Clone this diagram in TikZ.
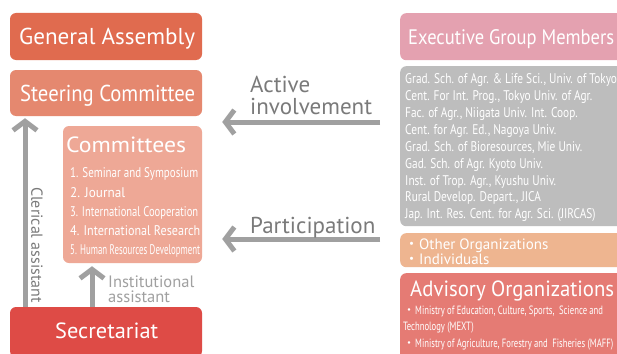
\documentclass[tikz,border=0pt]{standalone}
\usepackage{graphicx}
\usepackage{fontspec}
\setmainfont{PT Sans}
\newfontfamily\listfont[FakeStretch=0.81]{PT Sans}
\newfontfamily\narrowfont[FakeStretch=0.72]{PT Sans}
\newfontfamily\cjk{Noto Sans CJK JP}
\usetikzlibrary{arrows.meta}
\definecolor{assembly}{HTML}{E06B4F}
\definecolor{steering}{HTML}{E5886F}
\definecolor{committee}{HTML}{EEA896}
\definecolor{secretariat}{HTML}{DE4B46}
\definecolor{executive}{HTML}{E4A1B0}
\definecolor{members}{HTML}{BDBDBD}
\definecolor{others}{HTML}{EEB590}
\definecolor{advisory}{HTML}{E57B74}
\definecolor{arrowgray}{HTML}{A0A0A0}
\definecolor{labgray}{HTML}{7A7A7A}
\tikzset{
  box/.style={rounded corners=6pt, inner sep=0pt, text=white},
  head/.style={text=white, inner sep=0pt, anchor=base west},
  arr/.style={draw=arrowgray, line width=5pt, -{Straight Barb[length=9pt,width=24pt]}},
  lab/.style={text=labgray, inner sep=0pt, align=left, font=\fontsize{23}{22}\selectfont},
  labs/.style={text=arrowgray, inner sep=0pt, align=left, font=\fontsize{16.5}{15}\selectfont},
  item/.style={text=white, inner sep=0pt, anchor=base west, font=\fontsize{14}{16}\selectfont},
  list/.style={text=white, inner sep=0pt, align=left, font=\listfont\fontsize{14}{16.9}\selectfont},
}
\newcommand{\fitw}[2]{\resizebox{#1}{\height}{#2}}
\newcommand{\pt}{{\cjk ・}}
\begin{document}
\begin{tikzpicture}[x=1pt,y=-1pt]
  \clip (0,0) rectangle (617,353);
  \fill[white] (0,0) rectangle (617,353);
  % left column
  \node[box, fill=assembly, minimum width=192pt, minimum height=47pt] (ga) at (106,36.5) {};
  \node[head, font=\fontsize{23}{23}\selectfont] (gat) at (19,44.5) {\fitw{176pt}{General Assembly}};
  \node[box, fill=steering, minimum width=192pt, minimum height=46pt] (sc) at (106,93) {};
  \node[head, font=\fontsize{23}{23}\selectfont] (sct) at (20,101) {\fitw{175pt}{Steering Committee}};
  \node[box, fill=committee, minimum width=139pt, minimum height=137pt] (cm) at (132.5,194.5) {};
  \node[head, font=\fontsize{22}{22}\selectfont] (cmt) at (66,152) {\fitw{120pt}{Committees}};
  \node[box, fill=secretariat, minimum width=192pt, minimum height=50pt] (sec) at (106,332) {};
  \node[head, font=\fontsize{22}{22}\selectfont] (sect) at (55,338) {\fitw{103pt}{Secretariat}};
  \node[item] (c1) at (70,177) {\fitw{128pt}{1. Seminar and Symposium}};
  \node[item] (c2) at (70,197) {\fitw{55pt}{2. Journal}};
  \node[item] (c3) at (70,216) {\fitw{128pt}{3. International Cooperation}};
  \node[item] (c4) at (70,235) {\fitw{130pt}{4. International Research}};
  \node[item] (c5) at (70,254) {\fitw{130pt}{5. Human Resources Development}};
  % right column
  \node[box, fill=executive, minimum width=225pt, minimum height=47pt, anchor=north west] (egm) at (400,13) {};
  \node[head, font=\fontsize{21}{21}\selectfont] (egmt) at (408,44) {\fitw{206pt}{Executive Group Members}};
  \node[box, fill=members, minimum width=225pt, minimum height=160pt, anchor=north west] (grp) at (400,66) {};
  \node[list, anchor=north west] (grpt) at (405,73.5) {Grad. Sch. of Agr. \& Life Sci., Univ. of Tokyo\\
    Cent. For Int. Prog., Tokyo Univ. of Agr.\\
    Fac. of Agr., Niigata Univ. Int. Coop.\\
    Cent. for Agr. Ed., Nagoya Univ.\\
    Grad. Sch. of Bioresources, Mie Univ.\\
    Gad. Sch. of Agr. Kyoto Univ.\\
    Inst. of Trop. Agr., Kyushu Univ.\\
    Rural Develop. Depart., JICA\\
    Jap. Int. Res. Cent. for Agr. Sci. (JIRCAS)};
  \node[box, fill=others, minimum width=225pt, minimum height=34pt, anchor=north west] (oth) at (400,233) {};
  \node[text=white, inner sep=0pt, anchor=north west, align=left,
        font=\fontsize{15}{13.5}\selectfont] (otht) at (404,238.5) {\pt Other Organizations\\ \pt Individuals};
  \node[box, fill=advisory, minimum width=225pt, minimum height=90pt, anchor=north west] (adv) at (400,273) {};
  \node[head, font=\fontsize{22}{22}\selectfont] (advt) at (410,296) {\fitw{204pt}{Advisory Organizations}};
  \node[text=white, inner sep=0pt, anchor=north west, align=left,
        font=\narrowfont\fontsize{12}{16}\selectfont] (advl) at (403,306) {\pt Ministry of Education, Culture, Sports,\ \ Science and\\
    Technology (MEXT)\\[1pt]
    \pt Ministry of Agriculture, Forestry and\ \ Fisheries (MAFF)};
  % arrows
  \coordinate (cler) at (25,0);
  \coordinate (inst) at (92,0);
  \coordinate (act) at (0,122);
  \coordinate (part) at (0,239);
  \draw[arr, shorten >=2pt] (sec.north -| cler) -- (sc.south -| cler);
  \draw[arr, shorten >=3pt] (sec.north -| inst) -- (cm.south -| inst);
  \draw[arr, shorten <=20pt, shorten >=20pt] (grp.west |- act) -- (sc.east |- act);
  \draw[arr, shorten <=20pt, shorten >=20pt] (oth.west |- part) -- (cm.east |- part);
  \node[lab, anchor=south west] (actl) at (250,115) {Active\\involvement};
  \node[lab, anchor=base west] (partl) at (250,233) {Participation};
  \node[labs, anchor=north west] (instl) at (108,276) {Institutional\\assistant};
  \node[labs, text=labgray, rotate=-90, font=\fontsize{16}{16}\selectfont] (clerl) at (37,245) {Clerical assistant};
\end{tikzpicture}
\end{document}
